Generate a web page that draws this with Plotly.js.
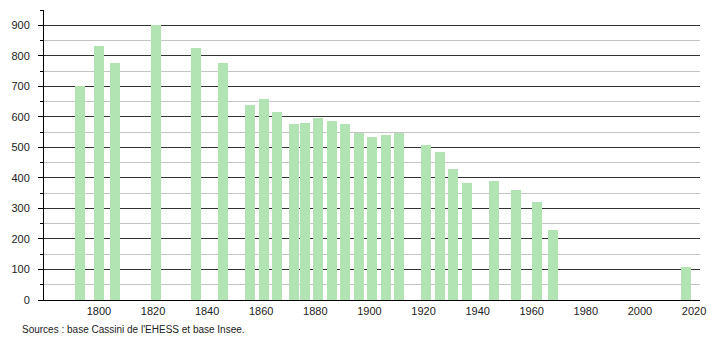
<!DOCTYPE html>
<html>
<head>
<meta charset="utf-8">
<script src="https://cdn.plot.ly/plotly-3.0.1.min.js"></script>
<style>
html,body{margin:0;padding:0;background:#fff;}
#chart{width:710px;height:340px;}
</style>
</head>
<body>
<div id="chart"></div>
<script>
const years = [1793,1800,1806,1821,1836,1846,1856,1861,1866,1872,1876,1881,1886,1891,1896,1901,1906,1911,1921,1926,1931,1936,1946,1954,1962,1968,2017];
const population = [700,833,776,902,825,776,640,660,615,575,580,595,588,575,548,533,540,548,509,485,430,383,389,361,320,230,107];
const yTicks = [0,100,200,300,400,500,600,700,800,900];
const xTicks = [1800,1820,1840,1860,1880,1900,1920,1940,1960,1980,2000,2020];
const sourceText = "Sources : base Cassini de l'EHESS et base Insee.";

const trace = {
  type: 'bar',
  x: years,
  y: population,
  width: years.map(() => 3.7),
  marker: {color: '#b2e3b2', line: {width: 0}},
  hoverinfo: 'x+y'
};

const layout = {
  width: 710, height: 340,
  margin: {l: 44, r: 10, t: 10, b: 40},
  paper_bgcolor: '#fff', plot_bgcolor: '#fff',
  font: {family: 'Liberation Sans, Arial, sans-serif', size: 11, color: '#222'},
  showlegend: false,
  bargap: 0,
  xaxis: {
    range: [1779.7, 2022.2],
    tickvals: xTicks, ticktext: xTicks.map(String),
    showgrid: false, zeroline: false,
    showline: true, linecolor: '#000', linewidth: 1,
    ticks: '', ticklabelstandoff: 1,
    tickfont: {size: 11, color: '#222'}
  },
  yaxis: {
    range: [0, 950],
    tickvals: yTicks, ticktext: yTicks.map(String),
    showgrid: true, gridcolor: '#333', gridwidth: 1,
    zeroline: false,
    showline: true, linecolor: '#000', linewidth: 1,
    ticks: 'outside', ticklen: 5, tickcolor: '#000',
    ticklabelstandoff: 6,
    tickfont: {size: 11, color: '#222'},
    minor: {dtick: 50, tick0: 0, showgrid: true, gridcolor: '#c4c4c4', gridwidth: 1, ticks: 'outside', ticklen: 3, tickcolor: '#000'}
  },
  annotations: [{
    text: sourceText, xref: 'paper', yref: 'paper',
    x: -24/656, y: -(29/290), xanchor: 'left', yanchor: 'middle',
    showarrow: false, font: {size: 10, color: '#222'}
  }]
};

Plotly.newPlot('chart', [trace], layout, {displayModeBar: false, staticPlot: true});
</script>
</body>
</html>
